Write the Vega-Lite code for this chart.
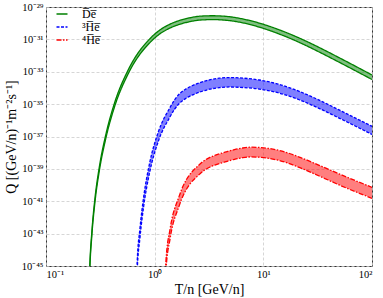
{
  "$schema": "https://vega.github.io/schema/vega-lite/v6.json",
  "width": 326,
  "height": 259,
  "autosize": {"type": "none"},
  "padding": {"left": 46, "top": 7, "right": 11, "bottom": 32},
  "config": {
    "view": {"stroke": "#333333", "strokeWidth": 1},
    "font": "Liberation Serif",
    "axis": {
      "labelFont": "Liberation Serif", "titleFont": "Liberation Serif",
      "labelFontSize": 10.5, "titleFontSize": 14, "titleFontWeight": "normal",
      "labelColor": "#000000", "titleColor": "#000000",
      "ticks": false, "domain": false, "grid": true,
      "gridColor": "#cccccc", "gridDash": [3, 2], "gridWidth": 0.8, "labelPadding": 3
    },
    "legend": {
      "orient": "none", "legendX": 10, "legendY": 1,
      "symbolType": "M-1.1,0H1.1", "symbolSize": 100, "symbolStrokeWidth": 1.5,
      "labelFont": "Liberation Serif", "labelFontSize": 12, "labelColor": "#000000",
      "labelOffset": 14, "rowPadding": 1
    }
  },
  "data": {"values": [
    {"s":"De","x":0.2455,"hi":1.318e-48,"lo":7.586e-49},
    {"s":"De","x":0.2533,"hi":1.318e-45,"lo":7.586e-46},
    {"s":"De","x":0.2642,"hi":1.318e-43,"lo":7.586e-44},
    {"s":"De","x":0.2815,"hi":1.318e-41,"lo":7.586e-42},
    {"s":"De","x":0.3096,"hi":1.318e-39,"lo":7.586e-40},
    {"s":"De","x":0.3552,"hi":1.318e-37,"lo":7.586e-38},
    {"s":"De","x":0.4295,"hi":1.318e-35,"lo":7.586e-36},
    {"s":"De","x":0.5713,"hi":1.318e-33,"lo":7.586e-34},
    {"s":"De","x":0.9288,"hi":1.318e-31,"lo":7.586e-32},
    {"s":"De","x":1.1113,"hi":3.715e-31,"lo":2.138e-31},
    {"s":"De","x":1.3728,"hi":8.511e-31,"lo":4.898e-31},
    {"s":"De","x":1.6956,"hi":1.479e-30,"lo":8.511e-31},
    {"s":"De","x":2.095,"hi":2.138e-30,"lo":1.230e-30},
    {"s":"De","x":2.587,"hi":2.692e-30,"lo":1.549e-30},
    {"s":"De","x":3.405,"hi":2.884e-30,"lo":1.660e-30},
    {"s":"De","x":4.877,"hi":2.512e-30,"lo":1.445e-30},
    {"s":"De","x":6.695,"hi":1.738e-30,"lo":1.000e-30},
    {"s":"De","x":9.190,"hi":1.012e-30,"lo":5.689e-31},
    {"s":"De","x":14.02,"hi":3.890e-31,"lo":2.138e-31},
    {"s":"De","x":21.39,"hi":1.216e-31,"lo":6.531e-32},
    {"s":"De","x":32.65,"hi":3.162e-32,"lo":1.660e-32},
    {"s":"De","x":49.80,"hi":7.413e-33,"lo":3.890e-33},
    {"s":"De","x":100,"hi":6.310e-34,"lo":3.311e-34},
    {"s":"3He","x":0.6695,"hi":1.950e-48,"lo":5.129e-49},
    {"s":"3He","x":0.6909,"hi":1.950e-45,"lo":5.129e-46},
    {"s":"3He","x":0.7315,"hi":1.950e-43,"lo":5.129e-44},
    {"s":"3He","x":0.7930,"hi":1.950e-41,"lo":5.129e-42},
    {"s":"3He","x":0.8942,"hi":1.950e-39,"lo":5.129e-40},
    {"s":"3He","x":1.0812,"hi":1.950e-37,"lo":5.129e-38},
    {"s":"3He","x":1.3728,"hi":5.623e-36,"lo":1.479e-36},
    {"s":"3He","x":1.5258,"hi":1.862e-35,"lo":4.898e-36},
    {"s":"3He","x":1.6956,"hi":4.365e-35,"lo":1.148e-35},
    {"s":"3He","x":1.9242,"hi":8.318e-35,"lo":2.188e-35},
    {"s":"3He","x":2.232,"hi":1.413e-34,"lo":3.715e-35},
    {"s":"3He","x":2.587,"hi":2.089e-34,"lo":5.495e-35},
    {"s":"3He","x":3.196,"hi":3.162e-34,"lo":8.318e-35},
    {"s":"3He","x":3.948,"hi":3.981e-34,"lo":1.047e-34},
    {"s":"3He","x":4.877,"hi":4.365e-34,"lo":1.148e-34},
    {"s":"3He","x":6.695,"hi":3.981e-34,"lo":1.047e-34},
    {"s":"3He","x":9.190,"hi":3.090e-34,"lo":8.511e-35},
    {"s":"3He","x":14.02,"hi":1.660e-34,"lo":4.786e-35},
    {"s":"3He","x":21.39,"hi":6.166e-35,"lo":1.862e-35},
    {"s":"3He","x":32.65,"hi":1.758e-35,"lo":5.433e-36},
    {"s":"3He","x":49.80,"hi":4.365e-36,"lo":1.380e-36},
    {"s":"3He","x":100,"hi":4.266e-37,"lo":1.349e-37},
    {"s":"4He","x":1.2300,"hi":1.995e-48,"lo":5.012e-49},
    {"s":"4He","x":1.2695,"hi":1.995e-45,"lo":5.012e-46},
    {"s":"4He","x":1.3874,"hi":1.995e-43,"lo":5.012e-44},
    {"s":"4He","x":1.6779,"hi":1.995e-41,"lo":5.012e-42},
    {"s":"4He","x":2.6151,"hi":1.995e-39,"lo":5.012e-40},
    {"s":"4He","x":2.875,"hi":3.311e-39,"lo":8.318e-40},
    {"s":"4He","x":3.196,"hi":5.012e-39,"lo":1.259e-39},
    {"s":"4He","x":3.682,"hi":7.244e-39,"lo":1.820e-39},
    {"s":"4He","x":4.549,"hi":1.122e-38,"lo":2.818e-39},
    {"s":"4He","x":5.419,"hi":1.549e-38,"lo":3.890e-39},
    {"s":"4He","x":6.458,"hi":1.950e-38,"lo":4.898e-39},
    {"s":"4He","x":7.762,"hi":2.188e-38,"lo":5.495e-39},
    {"s":"4He","x":9.587,"hi":2.042e-38,"lo":5.129e-39},
    {"s":"4He","x":14.02,"hi":1.380e-38,"lo":3.311e-39},
    {"s":"4He","x":21.39,"hi":5.370e-39,"lo":1.230e-39},
    {"s":"4He","x":32.65,"hi":1.660e-39,"lo":3.631e-40},
    {"s":"4He","x":49.80,"hi":4.898e-40,"lo":1.023e-40},
    {"s":"4He","x":100,"hi":7.244e-41,"lo":1.514e-41}
  ]},
  "encoding": {
    "x": {
      "field": "x", "type": "quantitative",
      "scale": {"type": "log", "domain": [0.1, 100], "nice": false},
      "axis": {
        "title": "T/n [GeV/n]", "values": [0.1, 1, 10, 100],
        "labelExpr": "'10' + replace(replace(replace(replace(toString(round(log(datum.value)/LN10)),'-','⁻'),regexp('0','g'),'⁰'),regexp('1','g'),'¹'),regexp('2','g'),'²')",
        "titlePadding": 3
      }
    }
  },
  "layer": [
    {
      "transform": [{"filter": "datum.s == 'De'"}],
      "mark": {"type": "area", "fill": "#008000", "fillOpacity": 0.5, "interpolate": "monotone", "clip": true},
      "encoding": {
        "y": {
          "field": "hi", "type": "quantitative",
          "scale": {"type": "log", "domain": [1e-45, 1e-29], "nice": false},
          "title": "Q [(GeV/n)⁻¹m⁻²s⁻¹]",
          "axis": {
            "values": [1e-45, 1e-43, 1e-41, 1e-39, 1e-37, 1e-35, 1e-33, 1e-31, 1e-29],
            "labelExpr": "'10' + replace(replace(replace(replace(replace(replace(replace(replace(replace(replace(replace(toString(round(log(datum.value)/LN10)),'-','⁻'),regexp('0','g'),'⁰'),regexp('1','g'),'¹'),regexp('2','g'),'²'),regexp('3','g'),'³'),regexp('4','g'),'⁴'),regexp('5','g'),'⁵'),regexp('6','g'),'⁶'),regexp('7','g'),'⁷'),regexp('8','g'),'⁸'),regexp('9','g'),'⁹')",
            "titlePadding": 3
          }
        },
        "y2": {"field": "lo"}
      }
    },
    {
      "transform": [{"filter": "datum.s == '3He'"}],
      "mark": {"type": "area", "fill": "#0000ff", "fillOpacity": 0.5, "interpolate": "monotone", "clip": true},
      "encoding": {
        "y": {"field": "hi", "type": "quantitative", "title": "Q [(GeV/n)⁻¹m⁻²s⁻¹]"},
        "y2": {"field": "lo"}
      }
    },
    {
      "transform": [{"filter": "datum.s == '4He'"}],
      "mark": {"type": "area", "fill": "#ff0000", "fillOpacity": 0.5, "interpolate": "monotone", "clip": true},
      "encoding": {
        "y": {"field": "hi", "type": "quantitative", "title": "Q [(GeV/n)⁻¹m⁻²s⁻¹]"},
        "y2": {"field": "lo"}
      }
    },
    {
      "mark": {"type": "line", "interpolate": "monotone", "clip": true, "strokeWidth": 1.3},
      "encoding": {
        "y": {"field": "hi", "type": "quantitative", "title": "Q [(GeV/n)⁻¹m⁻²s⁻¹]"},
        "strokeDash": {
          "field": "s", "type": "nominal",
          "scale": {"domain": ["De", "3He", "4He"], "range": [[1, 0], [3, 1.5], [5, 1.5, 1.5, 1.5]]},
          "legend": {"title": null, "labelExpr": "datum.label == 'De' ? 'D̅e̅' : datum.label == '3He' ? '³H̅e̅' : '⁴H̅e̅'"}
        },
        "color": {
          "field": "s", "type": "nominal",
          "scale": {"domain": ["De", "3He", "4He"], "range": ["#008000", "#0000ff", "#ff0000"]},
          "legend": {"title": null, "labelExpr": "datum.label == 'De' ? 'D̅e̅' : datum.label == '3He' ? '³H̅e̅' : '⁴H̅e̅'"}
        }
      }
    },
    {
      "mark": {"type": "line", "interpolate": "monotone", "clip": true, "strokeWidth": 1.3},
      "encoding": {
        "y": {"field": "lo", "type": "quantitative", "title": "Q [(GeV/n)⁻¹m⁻²s⁻¹]"},
        "strokeDash": {"field": "s", "type": "nominal", "legend": {"title": null, "labelExpr": "datum.label == 'De' ? 'D̅e̅' : datum.label == '3He' ? '³H̅e̅' : '⁴H̅e̅'"}},
        "color": {"field": "s", "type": "nominal", "legend": {"title": null, "labelExpr": "datum.label == 'De' ? 'D̅e̅' : datum.label == '3He' ? '³H̅e̅' : '⁴H̅e̅'"}}
      }
    }
  ]
}
